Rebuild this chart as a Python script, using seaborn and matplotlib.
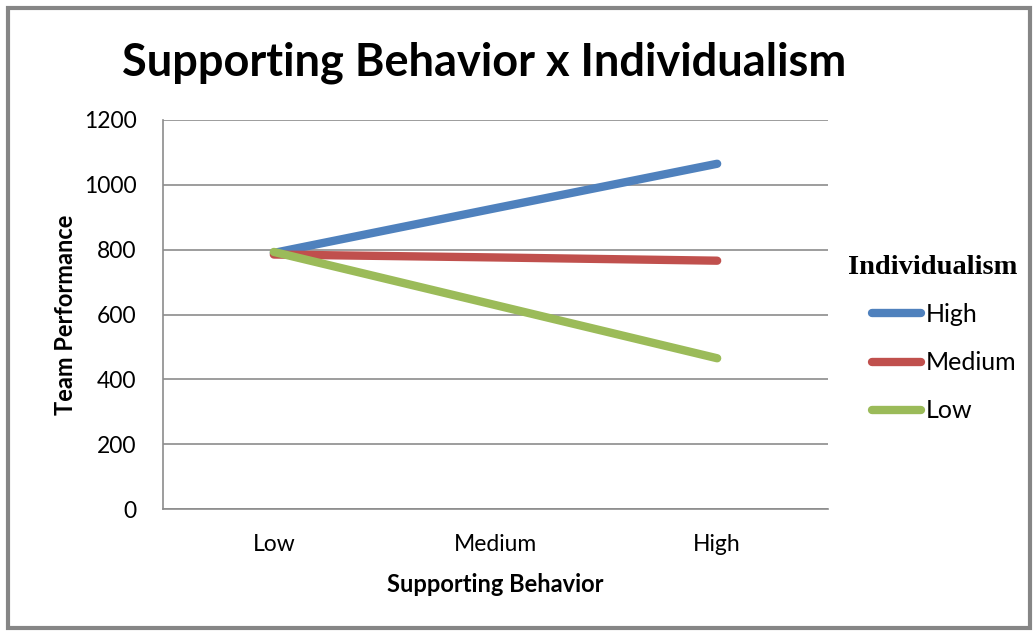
import matplotlib
matplotlib.use("Agg")
import matplotlib.pyplot as plt
import seaborn as sns
import pandas as pd
from matplotlib.patches import Rectangle

support_levels = ["Low", "Medium", "High"]
indiv_levels = ["High", "Medium", "Low"]
high_vals = [790, 928, 1065]
medium_vals = [785, 776, 766]
low_vals = [793, 629, 465]
yticks = [0, 200, 400, 600, 800, 1000, 1200]
colors = ["#4F81BD", "#C0504D", "#9BBB59"]

rows = []
for lvl, vals in zip(indiv_levels, [high_vals, medium_vals, low_vals]):
    for s, v in zip(support_levels, vals):
        rows.append({"Supporting Behavior": s, "Team Performance": v, "Individualism": lvl})
df = pd.DataFrame(rows)

sns.set_theme(style="white")
plt.rcParams['font.family'] = ['Lato', 'DejaVu Sans']
plt.rcParams['text.color'] = 'black'
plt.rcParams['axes.labelcolor'] = 'black'
plt.rcParams['xtick.color'] = 'black'
plt.rcParams['ytick.color'] = 'black'

fig = plt.figure(figsize=(10.34, 6.32), dpi=100)
W, H = 1034, 632
ax = fig.add_axes([163 / W, 1 - 509 / H, (828 - 163) / W, (509 - 120) / H])

sns.lineplot(data=df, x="Supporting Behavior", y="Team Performance", hue="Individualism",
             hue_order=indiv_levels, palette=colors, linewidth=6, ax=ax, sort=False,
             solid_capstyle="round")

ax.set_xlim(-0.5, 2.5)
ax.set_ylim(0, 1200)
ax.set_yticks(yticks)
ax.set_yticklabels([str(t) for t in yticks], fontsize=16.5)
ax.set_xticks(range(len(support_levels)))
ax.set_xticklabels(support_levels, fontsize=16.5)
ax.tick_params(axis='x', length=0, pad=18)
ax.tick_params(axis='y', length=0, pad=19)
ax.grid(axis='y', color='#8c8c8c', linewidth=1.2)
ax.set_axisbelow(True)
for side in ['top', 'right']:
    ax.spines[side].set_visible(False)
for side in ['left', 'bottom']:
    ax.spines[side].set_color('#8c8c8c')
    ax.spines[side].set_linewidth(1.2)
ax.set_xlabel("Supporting Behavior", fontsize=17, fontweight='bold', labelpad=13)
ax.set_ylabel("Team Performance", fontsize=17, fontweight='bold', labelpad=5)

fig.text(484 / W, 1 - 63 / H, "Supporting Behavior x Individualism", fontsize=32.5,
         fontweight='bold', ha='center', va='center')

# legend title as separate text (serif bold)
fig.text(848 / W, 1 - 267 / H, "Individualism", fontsize=20.5, fontweight='bold',
         family='Liberation Serif', ha='left', va='center')

leg = ax.legend(loc='upper left', bbox_to_anchor=(872 / W, 1 - 303 / H),
                bbox_transform=fig.transFigure, frameon=False,
                fontsize=18, handlelength=1.96, handletextpad=0.18, labelspacing=1.01,
                borderpad=0, borderaxespad=0)
for line in leg.get_lines():
    line.set_linewidth(6)
    line.set_solid_capstyle('round')

fig.patches.append(Rectangle((8 / W, 4 / H), (1030 - 8) / W, (628 - 8) / H,
                             transform=fig.transFigure, fill=False,
                             edgecolor='#868686', linewidth=3))

fig.savefig("out.png", dpi=100)
